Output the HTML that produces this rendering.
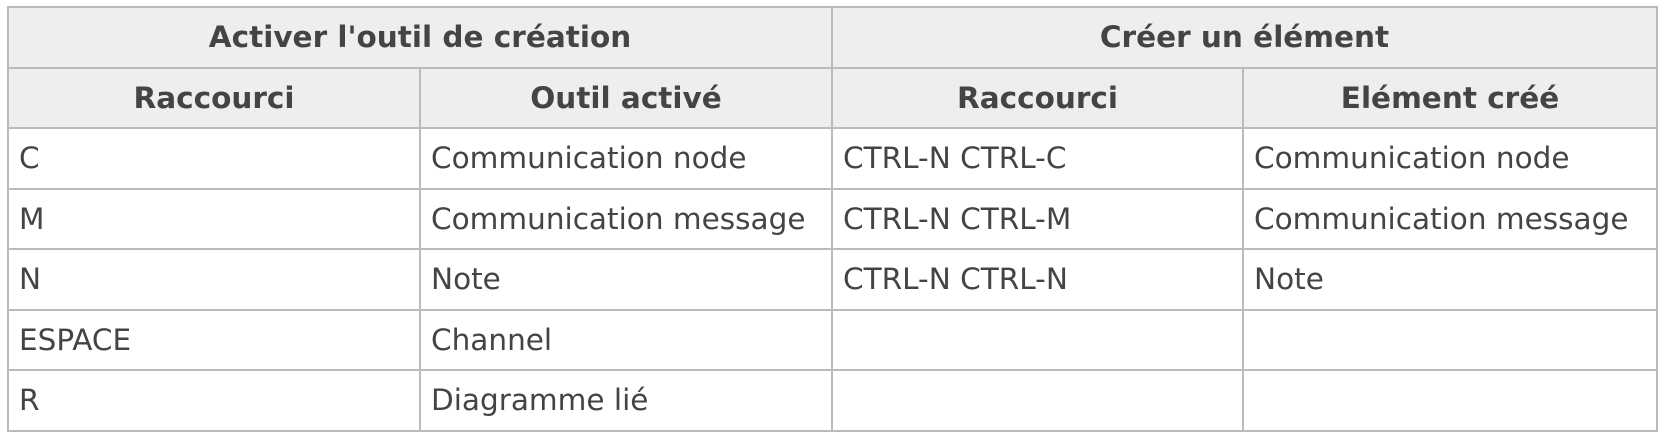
<!DOCTYPE html>
<html><head><meta charset="utf-8"><style>
html,body{margin:0;padding:0;background:#fff;width:1666px;height:438px;overflow:hidden}
table{position:absolute;left:7px;top:6px;border-collapse:collapse;table-layout:fixed;width:1649px;font-family:"DejaVu Sans","Liberation Sans",sans-serif;font-size:29.5px;color:#444}
td,th{border:2px solid #bbb;height:58.5px;padding:0 10px;text-align:left;white-space:nowrap;overflow:hidden}
th{background:#eee;text-align:center;font-weight:bold}
</style></head><body>
<table>
<colgroup><col style="width:412px"><col style="width:412px"><col style="width:411px"><col style="width:414px"></colgroup>
<tr><th colspan="2">Activer l'outil de création</th><th colspan="2">Créer un élément</th></tr>
<tr><th>Raccourci</th><th>Outil activé</th><th>Raccourci</th><th>Elément créé</th></tr>
<tr><td>C</td><td>Communication node</td><td>CTRL-N CTRL-C</td><td>Communication node</td></tr>
<tr><td>M</td><td>Communication message</td><td>CTRL-N CTRL-M</td><td>Communication message</td></tr>
<tr><td>N</td><td>Note</td><td>CTRL-N CTRL-N</td><td>Note</td></tr>
<tr><td>ESPACE</td><td>Channel</td><td></td><td></td></tr>
<tr><td>R</td><td>Diagramme lié</td><td></td><td></td></tr>
</table>
</body></html>
